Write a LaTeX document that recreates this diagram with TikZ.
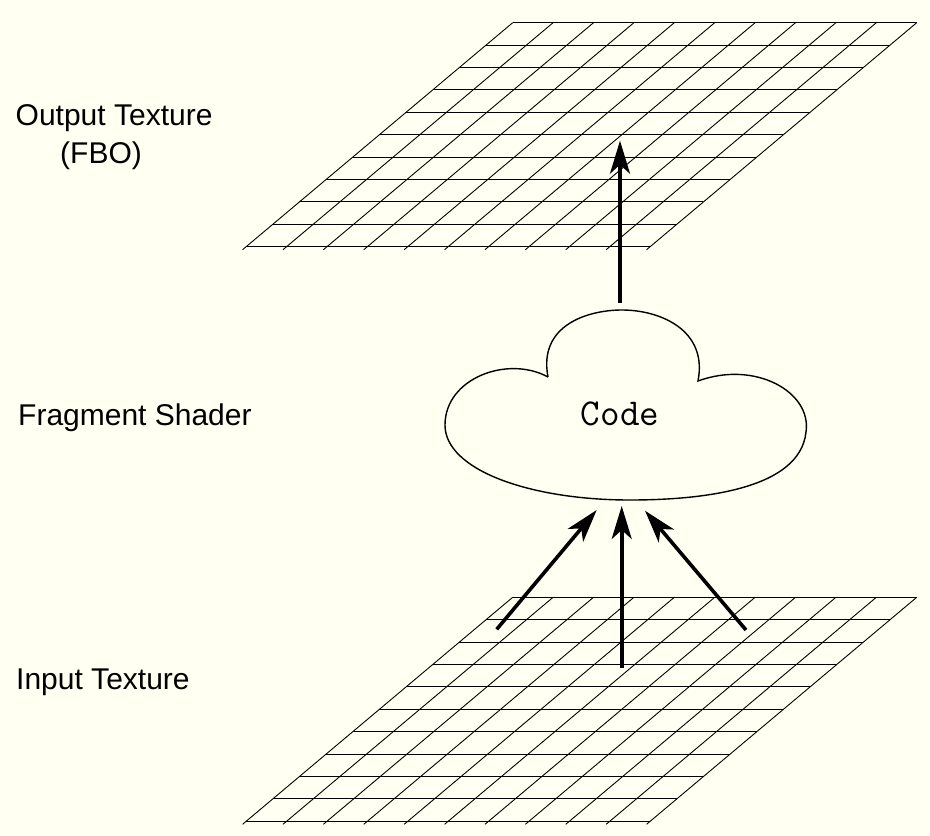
\documentclass[tikz,border=0pt]{standalone}
\usepackage{fontspec}
\setmainfont{Liberation Sans}
\usetikzlibrary{arrows.meta}
\definecolor{paper}{RGB}{255,255,242}

\tikzset{
  gridline/.style={line width=0.9pt},
  flow/.style={line width=3.6pt, -{Stealth[length=33pt, width=20pt, inset=9pt]}},
  layername/.style={anchor=base west, inner sep=0pt, font=\fontsize{30}{35}\selectfont},
  cloudline/.style={line width=1.4pt}
}

\begin{document}
\begin{tikzpicture}[x=1pt, y=-1pt]
  \fill[paper] (0,0) rectangle (930,836);
  \useasboundingbox (0,0) rectangle (930,836);

  % output texture
  \begin{scope}[shift={(512.7,22.7)}, xslant=1.19]
    \foreach \r in {0,...,10} \draw[gridline] (0,\r*22.4) -- (404,\r*22.4);
    \foreach \c in {0,...,10} \draw[gridline] (\c*40.4,0) -- (\c*40.4,227);
  \end{scope}

  % input texture
  \begin{scope}[shift={(512.7,597.3)}, xslant=1.19]
    \foreach \r in {0,...,10} \draw[gridline] (0,\r*22.4) -- (404,\r*22.4);
    \foreach \c in {0,...,10} \draw[gridline] (\c*40.4,0) -- (\c*40.4,227);
  \end{scope}

  % shader
  \draw[cloudline] (548,377) .. controls (538,325) and (588,310) .. (622,310)
    .. controls (660,310) and (708,330) .. (698,381)
    .. controls (755,360) and (812,392) .. (806,432)
    .. controls (800,490) and (700,500) .. (630,500)
    .. controls (530,500) and (445,470) .. (445,425)
    .. controls (445,378) and (508,355) .. (548,377);
  \node (code) at (620,414) {\fontsize{38}{38}\selectfont\ttfamily Code};

  \node[layername] (outname) at (15.5,125) {Output Texture};
  \node[layername] (fbo) at (60,163) {(FBO)};
  \node[layername] (shadername) at (18,425) {Fragment Shader};
  \node[layername] (inname) at (16,689) {Input Texture};

  \coordinate (cloudtop) at (620,303);
  \coordinate (outtip) at (620,140.7);
  \coordinate (inleft) at (496.7,629.3);
  \coordinate (inmid) at (621.7,668);
  \coordinate (inright) at (746,630);
  \coordinate (tipleft) at (596.7,510);
  \coordinate (tipmid) at (621.7,506);
  \coordinate (tipright) at (645,510.7);

  \draw[flow] (cloudtop) -- (outtip);
  \draw[flow] (inleft) -- (tipleft);
  \draw[flow] (inmid) -- (tipmid);
  \draw[flow] (inright) -- (tipright);
\end{tikzpicture}
\end{document}
